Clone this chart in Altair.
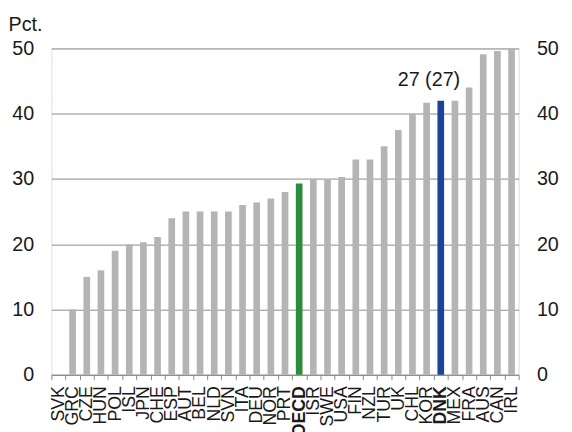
import altair as alt
import pandas as pd

countries = ["SVK", "GRC", "CZE", "HUN", "POL", "ISL", "JPN", "CHE", "ESP", "AUT",
             "BEL", "NLD", "SVN", "ITA", "DEU", "NOR", "PRT", "OECD", "ISR", "SWE",
             "USA", "FIN", "NZL", "TUR", "UK", "CHL", "KOR", "DNK", "MEX", "FRA",
             "AUS", "CAN", "IRL"]
values = [None, 10, 15, 16, 19, 20, 20.3, 21.1, 24, 25,
          25, 25, 25, 26, 26.4, 27, 28, 29.3, 30, 30,
          30.3, 33, 33, 35, 37.5, 40, 41.7, 42, 42, 44,
          49.1, 49.6, 50]
highlight_colors = {"OECD": "#2e8b3b", "DNK": "#1a4399"}
default_color = "#b4b4b4"
annotation_country = "DNK"
annotation_text = "27 (27)"
y_ticks = [0, 10, 20, 30, 40, 50]

colors = [highlight_colors.get(c, default_color) for c in countries]
df = pd.DataFrame({"country": countries, "value": values, "color": colors})
ann_df = pd.DataFrame({
    "country": [annotation_country],
    "value": [values[countries.index(annotation_country)]],
    "label": [annotation_text],
})

FONT = "Liberation Sans"
TXT = "#1a1a1a"
GRAY = "#8a8a8a"

x_enc = alt.X(
    "country:N",
    sort=countries,
    scale=alt.Scale(domain=countries, paddingInner=0, paddingOuter=0),
    axis=alt.Axis(
        title=None, labelAngle=-90, labelAlign="right", labelBaseline="middle",
        labelFontSize=18, labelPadding=6, labelColor=TXT, labelFont=FONT,
        labelFontWeight={"expr": "datum.value == 'OECD' || datum.value == 'DNK' ? 'bold' : 'normal'"},
        tickBand="extent", tickSize=5, tickColor=GRAY, domainColor=GRAY,
        labelOverlap=False,
    ),
)
y_scale = alt.Scale(domain=[0, 50], nice=False, zero=True)

bars = alt.Chart(df).mark_bar(width=alt.RelativeBandSize(0.47)).encode(
    x=x_enc,
    y=alt.Y("value:Q", scale=y_scale, axis=alt.Axis(
        title="Pct.", orient="left", values=y_ticks, grid=True, gridColor=GRAY,
        domain=False, ticks=False, labelFontSize=20, labelPadding=18,
        labelColor=TXT, labelFont=FONT,
        titleAngle=0, titleX=-44, titleY=-18, titleAlign="left",
        titleBaseline="alphabetic", titleFontSize=20, titleFontWeight="normal",
        titleColor=TXT, titleFont=FONT,
    )),
    color=alt.Color("color:N", scale=None),
)

right_axis = alt.Chart(df).mark_bar(width=alt.RelativeBandSize(0.47), opacity=0).encode(
    x=x_enc,
    y=alt.Y("value:Q", scale=y_scale, axis=alt.Axis(
        title=None, orient="right", values=y_ticks, grid=False,
        domain=False, ticks=False, labelFontSize=20, labelPadding=18,
        labelColor=TXT, labelFont=FONT,
    )),
)

ann = alt.Chart(ann_df).mark_text(
    fontSize=20, dx=-12, dy=-15, baseline="alphabetic", align="center",
    color=TXT, font=FONT,
).encode(
    x=x_enc,
    y=alt.Y("value:Q", scale=y_scale, axis=None),
    text="label:N",
)

chart = alt.layer(bars, right_axis, ann).resolve_axis(y="independent").properties(
    width=474, height=331,
    autosize=alt.AutoSizeParams(type="none"),
    padding={"left": 44, "top": 38, "right": 46, "bottom": 55},
).configure_view(stroke=None).configure(font=FONT)

chart.save("out.html", embed_options={"renderer": "svg", "actions": False})
